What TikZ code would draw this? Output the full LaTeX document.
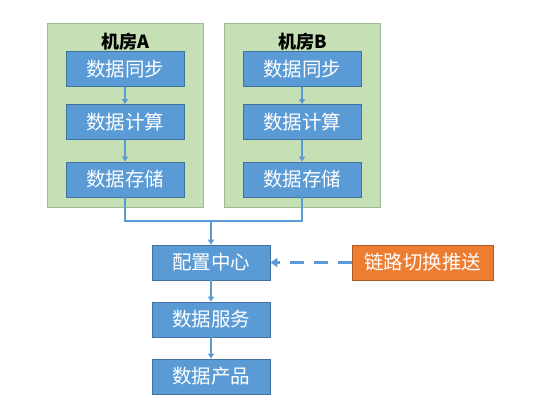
\documentclass[tikz,border=0pt]{standalone}
\usepackage{fontspec}
\setmainfont{Noto Sans CJK SC}
\usetikzlibrary{arrows.meta}
\definecolor{bfill}{HTML}{5B9BD5}
\definecolor{bdraw}{HTML}{41719C}
\definecolor{gfill}{HTML}{C5E0B4}
\definecolor{gdraw}{HTML}{9FB89A}
\definecolor{ofill}{HTML}{ED7D31}
\definecolor{odraw}{HTML}{AE5A21}
\definecolor{conn}{HTML}{5B9BD5}
\begin{document}
\begin{tikzpicture}[x=1pt,y=-1pt,
  room/.style={draw=gdraw,fill=gfill,line width=0.8pt,inner sep=0pt,minimum width=156pt,minimum height=184pt},
  stepbox/.style={draw=bdraw,fill=bfill,line width=0.8pt,inner sep=0pt,minimum width=118pt,minimum height=35pt,text=white,font=\fontsize{19.5}{22}\selectfont},
  pushbox/.style={draw=odraw,fill=ofill,line width=0.8pt,inner sep=0pt,minimum width=141pt,minimum height=35pt,text=white,font=\fontsize{19.5}{22}\selectfont},
  title/.style={font=\fontsize{18}{21}\selectfont\bfseries,inner sep=0pt},
  conn/.style={draw=conn,line width=2pt},
  arr/.style={conn,-{Triangle[length=5pt,width=6pt]}},
  darr/.style={conn,line width=2.5pt,dash pattern=on 14pt off 10pt,-{Triangle[length=7pt,width=9pt]}}
]
\useasboundingbox (0,0) rectangle (549,407);
\node[room] (roomA) at (125,115) {};
\node[room] (roomB) at (302.5,115) {};
\node[title] (tA) at (125,42) {机房A};
\node[title] (tB) at (302.5,42) {机房B};
\node[stepbox] (a1) at (125,69) {数据同步};
\node[stepbox] (a2) at (125,122) {数据计算};
\node[stepbox] (a3) at (125,179.5) {数据存储};
\node[stepbox] (b1) at (302,69) {数据同步};
\node[stepbox] (b2) at (302,122) {数据计算};
\node[stepbox] (b3) at (302,179.5) {数据存储};
\node[stepbox] (cfg) at (211,262.5) {配置中心};
\node[stepbox] (svc) at (211,319.5) {数据服务};
\node[stepbox] (prd) at (211,376.5) {数据产品};
\node[pushbox] (push) at (422.5,262.5) {链路切换推送};
\coordinate (j) at (211,221);
\draw[arr] (a1) -- (a2);
\draw[arr] (a2) -- (a3);
\draw[arr] (b1) -- (b2);
\draw[arr] (b2) -- (b3);
\draw[conn] (a3.south) |- (j) -| (b3.south);
\draw[arr] (j) -- (cfg.north);
\draw[arr] (cfg) -- (svc);
\draw[arr] (svc) -- (prd);
\draw[darr] (push.west) -- (cfg.east);
\end{tikzpicture}
\end{document}
